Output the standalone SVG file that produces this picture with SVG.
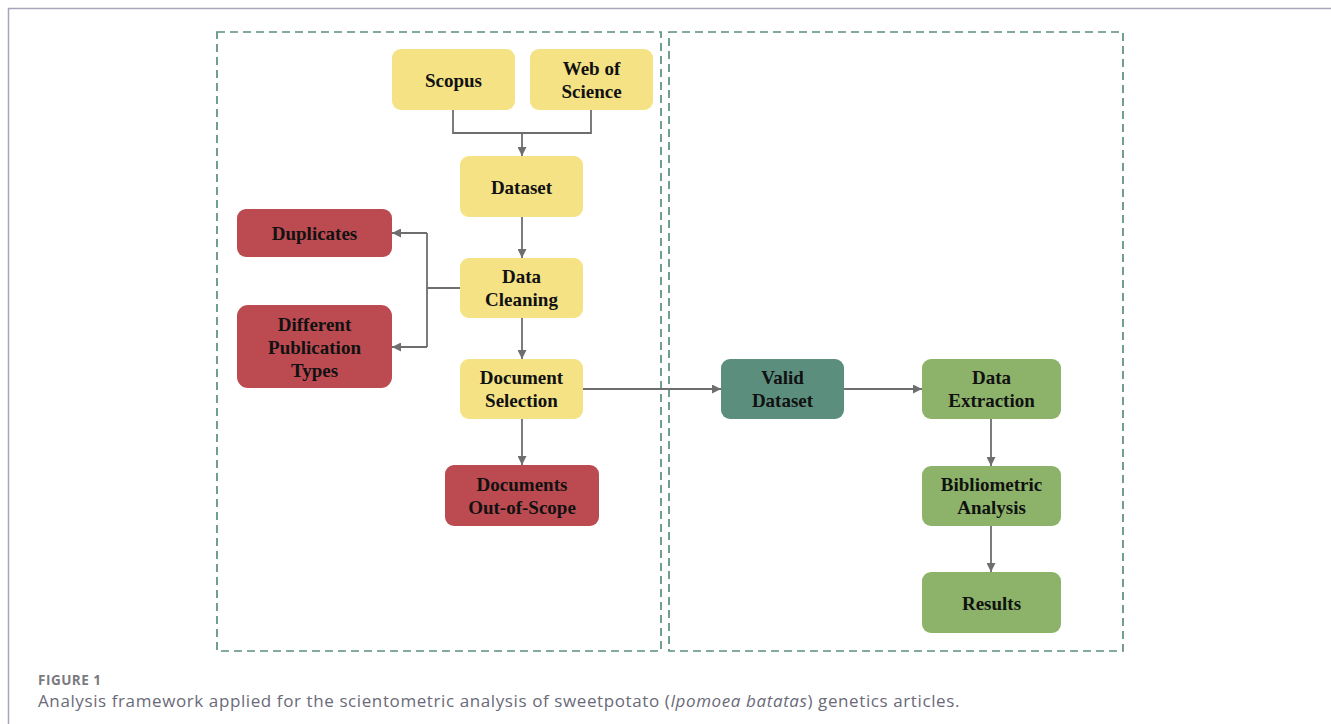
<svg xmlns="http://www.w3.org/2000/svg" width="1331" height="724" viewBox="0 0 1331 724">
<defs>
<marker id="ah" viewBox="0 0 10 10" refX="10" refY="5" markerWidth="9" markerHeight="9" markerUnits="userSpaceOnUse" orient="auto">
<path d="M0,0 L10,5 L0,10 z" fill="#6e6e6e"/>
</marker>
<style>
.frame{stroke:#a6a6b8;stroke-width:1.5;fill:none}
.dash{fill:none;stroke:#5b8e7d;stroke-width:1.7;stroke-dasharray:8 5}
.n rect{stroke:none}
.y rect{fill:#f4e285}
.r rect{fill:#bc4b51}
.dg rect{fill:#5b8e7d}
.lg rect{fill:#8cb369}
.n text{font-family:"Liberation Serif","Times New Roman",serif;font-weight:bold;font-size:19px;fill:#111;text-anchor:middle}
.c path{fill:none;stroke:#6e6e6e;stroke-width:1.8}
.cap1{font-family:"Open Sans","Noto Sans",sans-serif;font-weight:bold;font-size:13.5px;letter-spacing:0.5px;fill:#7a7a80}
.cap2{font-family:"Open Sans","Noto Sans",sans-serif;font-size:17px;letter-spacing:0.6px;fill:#6a6a78}
</style>
</defs>
<rect width="1331" height="724" fill="#fff"/>
<path class="frame" d="M8.5,724 V8.5 H1331"/>
<rect class="dash" x="217" y="32" width="444" height="619"/>
<rect class="dash" x="669" y="32" width="454" height="619"/>

<g id="connectors" class="c">
<path d="M453,110 V133 H591 V110"/>
<path d="M522,133 V156" marker-end="url(#ah)"/>
<path d="M522,217 V258" marker-end="url(#ah)"/>
<path d="M460,288 H427"/>
<path d="M427,233 V347"/>
<path d="M427,233 H392" marker-end="url(#ah)"/>
<path d="M427,347 H392" marker-end="url(#ah)"/>
<path d="M522,318 V359" marker-end="url(#ah)"/>
<path d="M522,419 V465" marker-end="url(#ah)"/>
<path d="M583,389 H721" marker-end="url(#ah)"/>
<path d="M844,389 H922" marker-end="url(#ah)"/>
<path d="M991,419 V466" marker-end="url(#ah)"/>
<path d="M991,526 V572" marker-end="url(#ah)"/>
</g>

<g id="scopus" class="n y"><rect x="392" y="49" width="123" height="61" rx="9"/><text x="453.5" y="87">Scopus</text></g>
<g id="wos" class="n y"><rect x="530" y="49" width="123" height="61" rx="9"/><text x="591.5" y="75">Web of</text><text x="591.5" y="98">Science</text></g>
<g id="dataset" class="n y"><rect x="460" y="156" width="123" height="61" rx="9"/><text x="521.5" y="194">Dataset</text></g>
<g id="duplicates" class="n r"><rect x="237" y="209" width="155" height="48" rx="9"/><text x="314.5" y="240">Duplicates</text></g>
<g id="cleaning" class="n y"><rect x="460" y="258" width="123" height="60" rx="9"/><text x="521.5" y="283">Data</text><text x="521.5" y="306">Cleaning</text></g>
<g id="pubtypes" class="n r"><rect x="237" y="305" width="155" height="83" rx="11"/><text x="314.5" y="331">Different</text><text x="314.5" y="354">Publication</text><text x="314.5" y="377">Types</text></g>
<g id="selection" class="n y"><rect x="460" y="359" width="123" height="60" rx="9"/><text x="521.5" y="384">Document</text><text x="521.5" y="407">Selection</text></g>
<g id="outofscope" class="n r"><rect x="445" y="465" width="154" height="61" rx="9"/><text x="522" y="491">Documents</text><text x="522" y="514">Out-of-Scope</text></g>
<g id="valid" class="n dg"><rect x="721" y="359" width="123" height="60" rx="9"/><text x="782.5" y="384">Valid</text><text x="782.5" y="407">Dataset</text></g>
<g id="extraction" class="n lg"><rect x="922" y="359" width="139" height="60" rx="9"/><text x="991.5" y="384">Data</text><text x="991.5" y="407">Extraction</text></g>
<g id="biblio" class="n lg"><rect x="922" y="466" width="139" height="60" rx="9"/><text x="991.5" y="491">Bibliometric</text><text x="991.5" y="514">Analysis</text></g>
<g id="results" class="n lg"><rect x="922" y="572" width="139" height="61" rx="9"/><text x="991.5" y="610">Results</text></g>

<text class="cap1" x="38" y="685">FIGURE 1</text>
<text class="cap2" x="38" y="707">Analysis framework applied for the scientometric analysis of sweetpotato (<tspan font-style="italic">Ipomoea batatas</tspan>) genetics articles.</text>
</svg>
